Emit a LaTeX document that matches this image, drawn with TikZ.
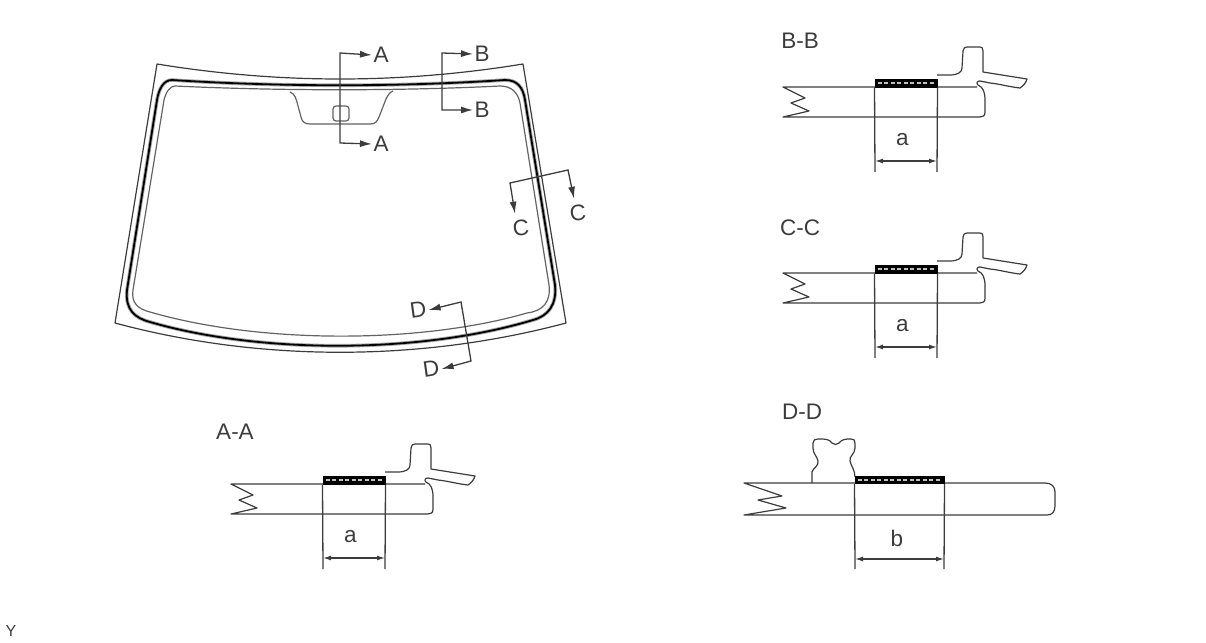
\documentclass[tikz,border=0pt]{standalone}
\usepackage{fontspec}
\usepackage{graphicx}
\setmainfont{Liberation Sans}
\usetikzlibrary{arrows.meta,calc}
\definecolor{inkgray}{HTML}{3C3C3C}
\tikzset{
  lbl/.style={inner sep=1.5pt, outer sep=0pt, text=inkgray, font=\fontsize{22.5}{22.5}\selectfont},
  glass/.style={draw=inkgray, line width=1.2pt, line join=round},
  thin edge/.style={draw=inkgray!80, line width=1.2pt, line join=round},
  bead/.style={draw=black, line width=1.8pt, line join=round},
  bead halo/.style={draw=black!35, line width=3.6pt, line join=round},
  sect/.style={draw=inkgray, line width=1.3pt, >={Latex[length=12pt,width=7pt]}},
  dimline/.style={draw=inkgray, line width=1.3pt},
  dimarrow/.style={draw=inkgray, line width=1.3pt, >={Latex[length=8pt,width=5pt]}},
  adhesive/.style={fill=black, draw=black, line width=1pt},
  hatch/.style={draw=black!25, line width=1.8pt, dash pattern=on 4pt off 2.5pt}
}
\begin{document}
\begin{tikzpicture}[x=1pt, y=-1pt]
\useasboundingbox (0,0) rectangle (1206,642);

% windshield
\draw [glass] (157,64) .. controls (280,84) and (400,84) .. (523,64) -- (566,323)
  .. controls (420,362) and (260,362) .. (115,323) -- cycle;
\foreach \layer in {bead halo, bead}
  \draw [\layer] (172,80) .. controls (280,87) and (400,87) .. (505,80)
    .. controls (517,80) and (523,87) .. (525,100) -- (555,285)
    .. controls (557,305) and (548,316) .. (533,320)
    .. controls (420,354) and (260,354) .. (150,322)
    .. controls (135,318) and (125,310) .. (127,290) -- (157,100)
    .. controls (159,88) and (164,80) .. (172,80) -- cycle;
\draw [thin edge] (175,86) .. controls (280,91) and (400,91) .. (500,86)
    .. controls (512,86) and (518,93) .. (520,103) -- (549,285)
    .. controls (551,302) and (543,311) .. (527,313)
    .. controls (420,344) and (260,344) .. (150,312)
    .. controls (138,309) and (131,303) .. (133,290) -- (164,100)
    .. controls (166,92) and (170,86) .. (175,86) -- cycle;
\draw [thin edge] (290,92) .. controls (295,94) and (296,98) .. (298,106) -- (301,117)
    .. controls (302,122) and (305,124) .. (310,124) -- (370,124)
    .. controls (375,124) and (377,122) .. (379,117) -- (386,99)
    .. controls (388,95) and (390,92) .. (393,91);
\draw [thin edge, rounded corners=3pt] (333,106) rectangle (349,121);

% section marks
\node [lbl] at (381,55) (A1) {A};
\node [lbl] at (381,144) (A2) {A};
\node [lbl] at (482,54) (B1) {B};
\node [lbl] at (482,110) (B2) {B};
\node [lbl] at (521,228) (C1) {\rotatebox{6}{C}};
\node [lbl] at (578,213) (C2) {\rotatebox{6}{C}};
\node [lbl] at (418,310) (D1) {\rotatebox{8}{D}};
\node [lbl] at (431,369) (D2) {\rotatebox{8}{D}};
\coordinate (corA1) at (340,53);
\coordinate (corA2) at (340,143);
\coordinate (corB1) at (442,53);
\coordinate (corB2) at (442,110);
\coordinate (corC1) at (510,183);
\coordinate (corC2) at (568,170);
\coordinate (corD1) at (461,302);
\coordinate (corD2) at (471,361);
\draw [sect, <->] (A1.west) -- (corA1) -- (corA2) -- (A2.west);
\draw [sect, <->] (B1.west) -- (corB1) -- (corB2) -- (B2.west);
\draw [sect, <->] ($(C1.north)+(-6,-4)$) -- (corC1) -- (corC2) -- ($(C2.north)+(-4,-4)$);
\draw [sect, <->] (D1.east) -- (corD1) -- (corD2) -- (D2.east);

% sections with the moulding over the edge
\foreach \dx/\dy/\name/\nx/\ny in {0/0/B-B/800/41, 0/186/C-C/800/228, -552/397/A-A/235/432} {
\node [lbl] at (\nx,\ny) (title\name) {\name};
\begin{scope}[shift={(\dx,\dy)}]
\draw [glass] (985,100) -- (985,112) .. controls (985,116) and (983,117) .. (980,117) -- (783,117)
  -- (809,111) -- (791,103) -- (805,98) -- (783,87) -- (977,87);
\draw [glass] (937,75) -- (950,75) .. controls (958,75) and (962,72) .. (962,68) -- (963,51)
  .. controls (963,48) and (965,47) .. (967,47) -- (980,47) .. controls (982,47) and (983,48) .. (983,51)
  -- (983,72) -- (1027,79) .. controls (1026,83) and (1023,86) .. (1020,88)
  .. controls (1010,87) and (1000,84) .. (990,83) -- (980,81) .. controls (977,81) and (976,83) .. (978,85)
  .. controls (983,87) and (985,92) .. (985,100);
\node [adhesive, minimum width=62pt, minimum height=8pt, inner sep=0pt] at (906,83) (seal\name) {};
\draw [hatch] ($(seal\name.west)+(3,0)$) -- ($(seal\name.east)+(-3,0)$);
\coordinate (lowL) at (875,172);
\coordinate (lowR) at (937,172);
\coordinate (dimL) at (875,161);
\coordinate (dimR) at (937,161);
\draw [dimline] (seal\name.south west) -- (lowL);
\draw [dimline] (seal\name.south east) -- (lowR);
\draw [dimarrow, <->] (dimL) -- node [lbl, pos=0.44, yshift=21.5pt] (dim\name) {a} (dimR);
\end{scope}
}

% section D-D
\node [lbl] at (802,412) (titleDD) {D-D};
\draw [glass] (944,483) -- (1045,483) .. controls (1052,483) and (1055,487) .. (1055,492) -- (1055,506)
  .. controls (1055,512) and (1052,515) .. (1047,515) -- (744,515)
  -- (786,508) -- (758,500) -- (782,496) -- (744,483) -- (855,483);
\draw [glass] (812,483) -- (812,472) .. controls (813,468) and (819,466) .. (818,461)
  .. controls (817,456) and (813,454) .. (813,448) -- (813,443) .. controls (813,440) and (815,439) .. (818,439)
  .. controls (826,439) and (829,439) .. (832,443) .. controls (834,445) and (837,445) .. (839,443)
  .. controls (842,439) and (846,439) .. (851,439) .. controls (854,439) and (855,440) .. (855,443)
  -- (855,448) .. controls (855,454) and (849,456) .. (850,461) .. controls (851,466) and (855,470) .. (855,477);
\node [adhesive, minimum width=89pt, minimum height=6.5pt, inner sep=0pt] at (899.5,480) (sealDD) {};
\draw [hatch] ($(sealDD.west)+(3,0)$) -- ($(sealDD.east)+(-3,0)$);
\coordinate (lowDL) at (855,569);
\coordinate (lowDR) at (944,569);
\coordinate (dimDL) at (855,559);
\coordinate (dimDR) at (944,559);
\draw [dimline] (sealDD.south west) -- (lowDL);
\draw [dimline] (sealDD.south east) -- (lowDR);
\draw [dimarrow, <->] (dimDL) -- node [lbl, pos=0.47, yshift=21pt] (dimDD) {b} (dimDR);

\node [lbl, font=\fontsize{16}{16}\selectfont] at (11,631) (Y) {Y};

\end{tikzpicture}
\end{document}
